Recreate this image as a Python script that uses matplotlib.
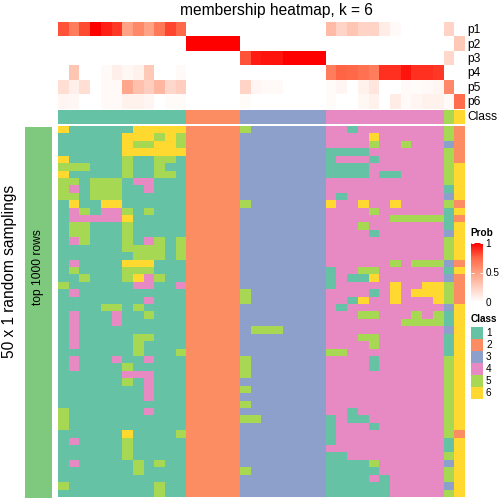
import numpy as np
import matplotlib
matplotlib.use("Agg")
import matplotlib.pyplot as plt
from matplotlib.colors import ListedColormap, LinearSegmentedColormap, Normalize
from matplotlib.colorbar import ColorbarBase
from matplotlib.patches import Rectangle

plt.rcParams['font.family'] = ['Liberation Sans', 'DejaVu Sans']

# --- data ---
class_labels = ["1", "2", "3", "4", "5", "6"]
class_colors = ["#66C2A5", "#FC8D62", "#8DA0CB", "#E78AC3", "#A6D854", "#FFD92F"]
prob_names = ["p1", "p2", "p3", "p4", "p5", "p6"]

# consensus class of each of the 38 columns
column_class = "111111111111 22222 33333333 44444444444 5 6"

# membership probability per column
p1 = [0.80, 0.65, 0.82, 1.00, 0.92, 0.86, 0.48, 0.60, 0.48, 0.67, 0.83, 0.74,
      0, 0, 0, 0, 0,
      0, 0, 0, 0, 0, 0, 0, 0,
      0.35, 0.22, 0.30, 0.22, 0.22, 0.10, 0.03, 0, 0, 0, 0,
      0.22, 0]
p2 = [0, 0, 0, 0, 0, 0, 0, 0, 0, 0, 0, 0,
      1, 1, 1, 1, 1,
      0, 0, 0, 0, 0, 0, 0, 0,
      0, 0, 0, 0, 0, 0, 0, 0, 0, 0, 0,
      0, 0.28]
p3 = [0, 0, 0, 0, 0, 0, 0, 0, 0, 0, 0, 0,
      0, 0, 0, 0, 0,
      0.80, 0.93, 0.95, 0.95, 1, 1, 1, 1,
      0, 0, 0, 0, 0, 0, 0, 0, 0, 0, 0,
      0.20, 0]
p4 = [0, 0.30, 0, 0, 0.03, 0.08, 0.04, 0.07, 0.28, 0, 0, 0.03,
      0, 0, 0, 0, 0,
      0, 0, 0, 0, 0, 0, 0, 0,
      0.65, 0.75, 0.74, 0.70, 0.65, 0.88, 0.88, 0.95, 0.88, 0.88, 0.86,
      0, 0]
p5 = [0.17, 0.08, 0.17, 0, 0.03, 0.03, 0.45, 0.32, 0.25, 0.37, 0.20, 0.25,
      0, 0, 0, 0, 0,
      0.22, 0.05, 0.03, 0.03, 0, 0, 0, 0,
      0.02, 0.05, 0, 0.07, 0.13, 0, 0, 0.03, 0.02, 0.03, 0.05,
      0.60, 0]
p6 = [0.05, 0.04, 0, 0, 0.03, 0.03, 0.07, 0.07, 0.05, 0, 0.02, 0.02,
      0, 0, 0, 0, 0,
      0.02, 0, 0, 0, 0, 0, 0, 0,
      0.02, 0, 0, 0.04, 0.07, 0, 0.10, 0.03, 0.05, 0.07, 0.07,
      0.03, 0.72]

# class assigned in each of the 50 random samplings (rows) for each column
samplings = [
    "611111166666 22222 53333333 44144444444 5 2",
    "111111666565 22222 33333333 44446444444 5 2",
    "111111655665 22222 33333333 44445445444 3 2",
    "111111666666 22222 33333333 11114444444 5 2",
    "611111511551 22222 33333333 14441444444 5 2",
    "555111511511 22222 33333333 11114444444 5 6",
    "611111511551 22222 33333333 11114114444 5 6",
    "551555144111 22222 33333333 44444444444 5 6",
    "541555114111 22222 33333333 44444444444 1 6",
    "551555111111 22222 33333333 41444444444 3 6",
    "161166111111 22222 53333333 64464464444 5 2",
    "145144515111 22222 33333333 44445444444 1 6",
    "144444611111 22222 33333333 44444455555 1 2",
    "155111511111 22222 33333333 44454444444 1 6",
    "155111511111 22222 33333333 44441444444 3 6",
    "145111514515 22222 33333333 44444444444 5 6",
    "111111555515 22222 33333333 44444444444 5 6",
    "111111155515 22222 33333333 44444444444 5 6",
    "141111666111 22222 33333333 44444454555 3 2",
    "151111555111 22222 33333333 14455444444 1 6",
    "115111564511 22222 33333333 14116444444 3 2",
    "511111144114 22222 33333333 14444464466 5 2",
    "141111111111 22222 53333333 44441464666 5 2",
    "111111114111 22222 53333333 44164464446 5 2",
    "111155151111 22222 33333333 41444444444 3 6",
    "141114115111 22222 33333333 44455444545 1 6",
    "141114111111 22222 33333333 44444445555 1 6",
    "141111111111 22222 35553333 44444444444 3 6",
    "141111155111 22222 33333333 44455444444 1 6",
    "141111151111 22222 33333333 44445444444 1 6",
    "111111151115 22222 33333333 55444444444 1 6",
    "141114114111 22222 53333333 44441444444 5 6",
    "141111511111 22222 53333333 44441444444 5 6",
    "111111444111 22222 53333333 44444444444 5 6",
    "111111514111 22222 33333333 44444444444 5 6",
    "111111114111 22222 53333333 44444444444 5 6",
    "111111114111 22222 33333333 44444444444 5 6",
    "111111111111 22222 53333333 44444444444 5 6",
    "511111114111 22222 33333333 44144444444 5 6",
    "511111111111 22222 55333333 14114444444 5 6",
    "511111111111 22222 33333333 14441444444 5 6",
    "111111611115 22222 33333333 14444444444 5 2",
    "141111511111 22222 33333333 14444444444 1 6",
    "111111511111 22222 33333333 44444444444 1 6",
    "111111511111 22222 33333333 11444444444 5 6",
    "141111151511 22222 33333333 11115444444 3 6",
    "111111151111 22222 53333333 11111444444 5 6",
    "111111111111 22222 33333333 11114144444 5 6",
    "511111111511 22222 33333333 11111144444 3 6",
    "111111111511 22222 33333333 11111144444 5 6",
]


def digits(s):
    return [int(ch) for ch in s.replace(" ", "")]


mat = np.array([digits(r) for r in samplings])
top_class = np.array([digits(column_class)])
prob = np.array([p1, p2, p3, p4, p5, p6])

class_cmap = ListedColormap(class_colors)
# white -> red, interpolated roughly like a LAB ramp
prob_cmap = LinearSegmentedColormap.from_list(
    "prob", [(0, "#FFFFFF"), (0.25, "#FFCFBF"), (0.5, "#FF9E81"), (0.75, "#FF6746"), (1, "#FF0000")])

# --- layout in pixels (origin top-left) ---
W = H = 504
X0, X1 = 58, 464.6
TOP_P, ROW_H = 23, 14.4
CLS_TOP, CLS_BOT = 110.5, 124.3
BODY_TOP, BODY_BOT = 127, 497.5

fig = plt.figure(figsize=(7, 7), dpi=72)
ax = fig.add_axes([0, 0, 1, 1])

ax.imshow(prob, cmap=prob_cmap, vmin=0, vmax=1, aspect="auto", interpolation="nearest",
          extent=(X0, X1, TOP_P + 6 * ROW_H, TOP_P))
ax.imshow(top_class, cmap=class_cmap, vmin=0.5, vmax=6.5, aspect="auto", interpolation="nearest",
          extent=(X0, X1, CLS_BOT, CLS_TOP))
ax.imshow(mat, cmap=class_cmap, vmin=0.5, vmax=6.5, aspect="auto", interpolation="nearest",
          extent=(X0, X1, BODY_BOT, BODY_TOP))

# annotation names on the right
for i, name in enumerate(prob_names):
    ax.text(467, TOP_P + ROW_H * (i + 0.5), name, fontsize=12, va="center", ha="left")
ax.text(467, (CLS_TOP + CLS_BOT) / 2, "Class", fontsize=12, va="center", ha="left")

# row title block on the left
ax.add_patch(Rectangle((25, BODY_TOP), 27, BODY_BOT - BODY_TOP, color="#7FC97F", lw=0))
ax.text(38.5, 267, "top 1000 rows", rotation=90, fontsize=12, ha="center", va="center")
ax.text(10, 271, "50 x 1 random samplings", rotation=90, fontsize=15.5, ha="center", va="center")

ax.text(276, 11, "membership heatmap, k = 6", fontsize=15.5, ha="center", va="center")

# --- legends ---
ax.text(470.5, 233, "Prob", fontsize=10, fontweight="bold", ha="left", va="center")
cax = fig.add_axes([470.7 / W, 1 - 302 / H, 12 / W, 59 / H])
cb = ColorbarBase(cax, cmap=prob_cmap, norm=Normalize(0, 1), ticks=[0, 0.5, 1])
cb.outline.set_visible(False)
cb.set_ticklabels(["0", "0.5", "1"])
cax.tick_params(axis="y", direction="in", length=3, width=1, color="white",
                left=True, right=True, labelleft=False, labelright=True, labelsize=10, pad=3)

ax.text(470.5, 319, "Class", fontsize=10, fontweight="bold", ha="left", va="center")
for i, (lab, col) in enumerate(zip(class_labels, class_colors)):
    y = 327 + 12 * i
    ax.add_patch(Rectangle((470.7, y), 12, 12, color=col, lw=0))
    ax.text(486, y + 6, lab, fontsize=10, ha="left", va="center")

ax.set_xlim(0, W)
ax.set_ylim(H, 0)
ax.axis("off")

fig.savefig("out.png", dpi=72)
